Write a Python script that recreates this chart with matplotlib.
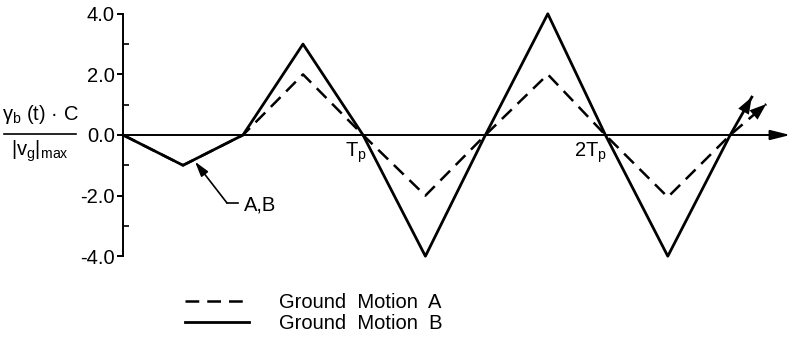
import matplotlib
matplotlib.use('Agg')
import matplotlib.pyplot as plt
from matplotlib.lines import Line2D

plt.rcParams['font.family'] = ['Liberation Sans', 'DejaVu Sans']
plt.rcParams['mathtext.default'] = 'regular'
plt.rcParams['axes.unicode_minus'] = False

# 数据 (t 以 Tp 为单位)
t_b = [0, 0.25, 0.5, 0.75, 1.0, 1.26, 1.51, 1.77, 2.01, 2.27, 2.53, 2.62]
y_b = [0, -1.0, 0, 3.0, 0, -4.0, 0, 4.0, 0, -4.0, 0, 1.25]
t_a = [0, 0.25, 0.5, 0.75, 1.0, 1.26, 1.51, 1.77, 2.01, 2.27, 2.53, 2.68]
y_a = [0, -1.0, 0, 2.0, 0, -2.0, 0, 2.0, 0, -2.05, 0, 1.02]

y_ticks = [-4.0, -2.0, 0.0, 2.0, 4.0]
y_minor = [-3.0, -1.0, 1.0, 3.0]
x_marks = [1.0, 2.0]
x_mark_labels = ['T$_p$', '2T$_p$']
legend_labels = ['Ground  Motion  A', 'Ground  Motion  B']

# 画布: 像素坐标 -> 数据坐标
W, H = 799, 342
X0, XS = 123, 240   # t=0 的像素位置, 每个 Tp 的像素数
Y0, YS = 135, 30.3  # y=0 的像素位置, 每单位像素数
FS = 14.5

fig = plt.figure(figsize=(W / 100, H / 100), dpi=100)
ax = fig.add_axes([0, 0, 1, 1])
ax.patch.set_visible(False)
ax.set_xlim(-X0 / XS, (W - X0) / XS)
ax.set_ylim((Y0 - H) / YS, Y0 / YS)

for s in ['top', 'right', 'bottom']:
    ax.spines[s].set_visible(False)
ax.spines['left'].set_position(('data', 0))
ax.spines['left'].set_bounds(-4, 4)
ax.spines['left'].set_linewidth(1.4)
ax.set_xticks([])
ax.set_yticks(y_ticks)
ax.set_yticklabels([f'{v:.1f}' for v in y_ticks])
ax.set_yticks(y_minor, minor=True)
ax.tick_params(axis='y', which='major', direction='out', length=4, width=1.4, pad=2, labelsize=FS)
ax.tick_params(axis='y', which='minor', direction='in', length=4, width=1.2)

# x 轴 (带箭头)
ax.annotate('', xy=(2.78, 0), xytext=(0, 0),
            arrowprops=dict(arrowstyle='-|>,head_length=0.6,head_width=0.15', lw=1.4,
                            color='k', mutation_scale=20, shrinkA=0, shrinkB=0))

# 曲线
line_a, = ax.plot(t_a, y_a, color='k', lw=1.8, dashes=(5.5, 3.2), label=legend_labels[0])
line_b, = ax.plot(t_b, y_b, color='k', lw=2.0, label=legend_labels[1])
for t, y in [(t_b, y_b), (t_a, y_a)]:
    ax.annotate('', xy=(t[-1], y[-1]), xytext=(t[-2], y[-2]),
                arrowprops=dict(arrowstyle='-|>,head_length=0.6,head_width=0.22', lw=0,
                                color='k', mutation_scale=20, shrinkA=0, shrinkB=0))

# Tp 标注
for xm, lab in zip(x_marks, x_mark_labels):
    ax.text(xm + 0.015, -0.18, lab, ha='right', va='top', fontsize=FS)

# A,B 引线
ax.plot([0.479, 0.433], [-2.24, -2.24], color='k', lw=1.2)
ax.annotate('', xy=(0.3, -0.88), xytext=(0.433, -2.24),
            arrowprops=dict(arrowstyle='-|>,head_length=0.45,head_width=0.13', lw=1.2,
                            color='k', mutation_scale=20, shrinkA=0, shrinkB=0))
ax.text(0.504, -2.31, 'A,B', ha='left', va='center', fontsize=FS)

# y 轴标签 (分式)
fig.text(40 / W, 1 - 115 / H, 'γ$_b$ (t) · C', ha='center', va='center', fontsize=FS)
fig.text(40 / W, 1 - 151 / H, '|v$_g$|$_{max}$', ha='center', va='center', fontsize=FS)
fig.add_artist(Line2D([4 / W, 76 / W], [1 - 134 / H, 1 - 134 / H], color='k', lw=1.2))

# 图例
ax.legend(handles=[line_a, line_b], labels=legend_labels, loc='upper left',
          bbox_to_anchor=(185 / W, 1 - 293 / H), frameon=False, fontsize=FS,
          handlelength=3.2, handletextpad=1.45, labelspacing=0.12,
          borderpad=0, borderaxespad=0)

fig.savefig('out.png', dpi=100)
